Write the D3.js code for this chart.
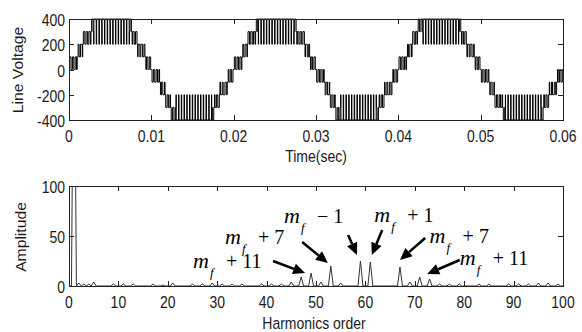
<!DOCTYPE html>
<html><head><meta charset="utf-8">
<script src="https://cdn.jsdelivr.net/npm/d3@7"></script>
<style>body{margin:0;background:#fff} svg{display:block}</style>
</head><body><svg id="c" width="582" height="332"></svg>
<script>
// ---------------- data ----------------
const timeTicks = [0, 0.01, 0.02, 0.03, 0.04, 0.05, 0.06];
const timeTickLabels = ["0", "0.01", "0.02", "0.03", "0.04", "0.05", "0.06"];
const voltTicks = [-400, -200, 0, 200, 400];
const cycleStarts = [0, 0.02, 0.04];
const carrierPeriod = 0.02 / 60;
// switching bands inside one fundamental period
const bandStart = [0, 0.0009, 0.0013, 0.0017, 0.0025, 0.0030, 0.0072, 0.0077, 0.0085, 0.0089, 0.0093,
                   0.0100, 0.0109, 0.0113, 0.0117, 0.0125, 0.0130, 0.0172, 0.0177, 0.0185, 0.0189, 0.0193];
const bandEnd   = [0.0009, 0.0013, 0.0017, 0.0025, 0.0030, 0.0072, 0.0077, 0.0085, 0.0089, 0.0093, 0.0100,
                   0.0109, 0.0113, 0.0117, 0.0125, 0.0130, 0.0172, 0.0177, 0.0185, 0.0189, 0.0193, 0.0200];
const bandInner = [0, 100, 100, 200, 300, 200, 300, 200, 100, 100, 0,
                   0, -100, -100, -200, -300, -200, -300, -200, -100, -100, 0];
const bandOuter = [100, 200, 200, 300, 400, 400, 400, 300, 200, 200, 100,
                   -100, -200, -200, -300, -400, -400, -400, -300, -200, -200, -100];
const bandDuty  = [0.5, 0.35, 0.65, 0.55, 0.5, 0.85, 0.5, 0.55, 0.65, 0.35, 0.5,
                   0.5, 0.35, 0.65, 0.55, 0.5, 0.85, 0.5, 0.55, 0.65, 0.35, 0.5];

const harmTicks = [0, 10, 20, 30, 40, 50, 60, 70, 80, 90, 100];
const ampTicks = [0, 50, 100];
const harmOrder = [1, 2, 3, 4, 5, 9, 11, 13, 17, 19, 21, 25, 27, 29, 31, 33, 35, 39, 41, 43, 45, 47, 49, 51, 53, 55,
                   59, 61, 67, 69, 71, 73, 75, 77, 79, 83, 85, 89, 91, 93, 95, 97, 99];
const harmAmp   = [340, 3, 2, 2, 4, 2, 2, 2, 2, 1, 3, 2, 2, 3, 2, 2, 2, 2, 2, 2, 4, 9, 13, 4, 20, 3,
                   25, 24, 19, 4, 9, 7, 2, 2, 2, 2, 2, 2, 2, 2, 3, 3, 2];

const annSuffix = ["\u2212 1", "+ 1", "+ 7", "+ 11", "+ 7", "+ 11"];
const annTextH = [43.5, 61.8, 31.6, 25.1, 73.0, 79.1];
const annTextA = [63, 64, 42, 18, 43, 21];
const annTailH = [56.5, 63.4, 47.2, 41.3, 72.1, 79.1];
const annTailA = [51, 56, 44, 25, 48, 26];
const annTipH  = [58.3, 61.3, 52.4, 47.8, 67.0, 72.5];
const annTipA  = [31, 31, 23, 13, 26, 12];

// ---------------- drawing ----------------
const svg = d3.select("#c");
const SANS = "'Liberation Sans', Arial, sans-serif";
const SERIF = "'Liberation Serif', 'Times New Roman', serif";
const STR = 1.12;
const L = 69, R = 563;

function frame(g, x, y, xt, xl, yt, yl) {
  const [x0, x1] = x.range(), [y0, y1] = y.range();
  g.append("rect").attr("x", x0 + 0.5).attr("y", y1 + 0.5).attr("width", x1 - x0).attr("height", y0 - y1)
    .attr("fill", "none").attr("stroke", "#222").attr("stroke-width", 1);
  xt.forEach((v, i) => {
    const px = Math.round(x(v)) + 0.5;
    g.append("line").attr("x1", px).attr("x2", px).attr("y1", y0).attr("y2", y0 - 5).attr("stroke", "#222");
    g.append("line").attr("x1", px).attr("x2", px).attr("y1", y1).attr("y2", y1 + 5).attr("stroke", "#222");
    g.append("text").attr("transform", `translate(${x(v)},${y0 + 22}) scale(1,${STR})`)
      .attr("text-anchor", "middle").attr("font-family", SANS).attr("font-size", 14).attr("fill", "#1a1a1a")
      .text(xl[i]);
  });
  yt.forEach((v, i) => {
    const py = Math.round(y(v)) + 0.5;
    g.append("line").attr("x1", x0).attr("x2", x0 + 5).attr("y1", py).attr("y2", py).attr("stroke", "#222");
    g.append("line").attr("x1", x1).attr("x2", x1 - 5).attr("y1", py).attr("y2", py).attr("stroke", "#222");
    g.append("text").attr("transform", `translate(${x0 - 4},${y(v) + 7}) scale(1,${STR})`)
      .attr("text-anchor", "end").attr("font-family", SANS).attr("font-size", 14).attr("fill", "#1a1a1a")
      .text(yl[i]);
  });
}

// ---- top: line voltage ----
const xT = d3.scaleLinear().domain([0, 0.06]).range([L, R]);
const yT = d3.scaleLinear().domain([-400, 400]).range([120, 19]);
const gT = svg.append("g");
gT.append("clipPath").attr("id", "clipT").append("rect")
  .attr("x", L).attr("y", 18).attr("width", R - L + 1).attr("height", 104);

const pts = [];
const nSlots = Math.round(0.06 / carrierPeriod);
for (let k = 0; k < nSlots; k++) {
  const s = k * carrierPeriod, c = s + carrierPeriod / 2;
  let ci = cycleStarts.length - 1;
  while (ci > 0 && c < cycleStarts[ci]) ci--;
  const r = c - cycleStarts[ci];
  let b = bandStart.findIndex((v, i) => r >= v && r < bandEnd[i]);
  if (b < 0) b = bandStart.length - 1;
  const w = bandDuty[b] * carrierPeriod;
  pts.push([s, bandInner[b]]);
  pts.push([c - w / 2, bandOuter[b]]);
  pts.push([c + w / 2, bandInner[b]]);
}
pts.push([0.06, 0]);
const lineT = d3.line().x(d => xT(d[0])).y(d => yT(d[1])).curve(d3.curveStepAfter);
gT.append("path").attr("d", lineT(pts)).attr("fill", "none").attr("stroke", "#000")
  .attr("stroke-width", 1).attr("clip-path", "url(#clipT)");
frame(gT, xT, yT, timeTicks, timeTickLabels, voltTicks, voltTicks.map(String));
gT.append("text").attr("transform", `translate(316,162) scale(1,${STR})`).attr("text-anchor", "middle")
  .attr("font-family", SANS).attr("font-size", 14).attr("fill", "#1a1a1a").text("Time(sec)");
gT.append("text").attr("transform", `translate(23,70) rotate(-90) scale(${STR},1)`).attr("text-anchor", "middle")
  .attr("font-family", SANS).attr("font-size", 14).attr("fill", "#1a1a1a").text("Line Voltage");

// ---- bottom: spectrum ----
const xB = d3.scaleLinear().domain([0, 100]).range([L, R]);
const yB = d3.scaleLinear().domain([0, 100]).range([286, 186]);
const gB = svg.append("g");
gB.append("clipPath").attr("id", "clipB").append("rect")
  .attr("x", L).attr("y", 186).attr("width", R - L + 1).attr("height", 101);
const sp = [[0, 0]];
harmOrder.forEach((h, i) => {
  const hw = 0.5;
  sp.push([h - hw, 0], [h, harmAmp[i]], [h + hw, 0]);
});
sp.push([100, 0]);
const lineB = d3.line().x(d => xB(d[0])).y(d => yB(d[1]));
gB.append("path").attr("d", lineB(sp)).attr("fill", "none").attr("stroke", "#333")
  .attr("stroke-width", 1).attr("clip-path", "url(#clipB)");
frame(gB, xB, yB, harmTicks, harmTicks.map(String), ampTicks, ampTicks.map(String));
gB.append("text").attr("transform", `translate(314,329) scale(1,${STR})`).attr("text-anchor", "middle")
  .attr("font-family", SANS).attr("font-size", 14).attr("fill", "#1a1a1a").text("Harmonics order");
gB.append("text").attr("transform", `translate(26,237) rotate(-90) scale(${STR},1)`).attr("text-anchor", "middle")
  .attr("font-family", SANS).attr("font-size", 14).attr("fill", "#1a1a1a").text("Amplitude");

// ---- annotations ----
const gA = svg.append("g");
annSuffix.forEach((sfx, i) => {
  const tx = xB(annTextH[i]), ty = yB(annTextA[i]);
  gA.append("text").attr("x", tx).attr("y", ty).attr("font-family", SERIF).attr("font-style", "italic")
    .attr("font-size", 22).attr("fill", "#000").text("m");
  gA.append("text").attr("x", tx + 17).attr("y", ty + 9).attr("font-family", SERIF).attr("font-style", "italic")
    .attr("font-size", 13).attr("fill", "#000").text("f");
  gA.append("text").attr("x", tx + 33).attr("y", ty).attr("font-family", SERIF)
    .attr("font-size", 20).attr("fill", "#000").attr("xml:space", "preserve").text(sfx);
  const x1 = xB(annTailH[i]), y1 = yB(annTailA[i]), x2 = xB(annTipH[i]), y2 = yB(annTipA[i]);
  const ang = Math.atan2(y2 - y1, x2 - x1), hl = 12, hwid = 5.5;
  const bx = x2 - hl * Math.cos(ang), by = y2 - hl * Math.sin(ang);
  gA.append("line").attr("x1", x1).attr("y1", y1).attr("x2", bx).attr("y2", by)
    .attr("stroke", "#000").attr("stroke-width", 2.5);
  const px = -Math.sin(ang), py = Math.cos(ang);
  gA.append("path").attr("d", `M${x2},${y2}L${bx + px * hwid},${by + py * hwid}L${bx - px * hwid},${by - py * hwid}Z`)
    .attr("fill", "#000");
});
</script></body></html>
